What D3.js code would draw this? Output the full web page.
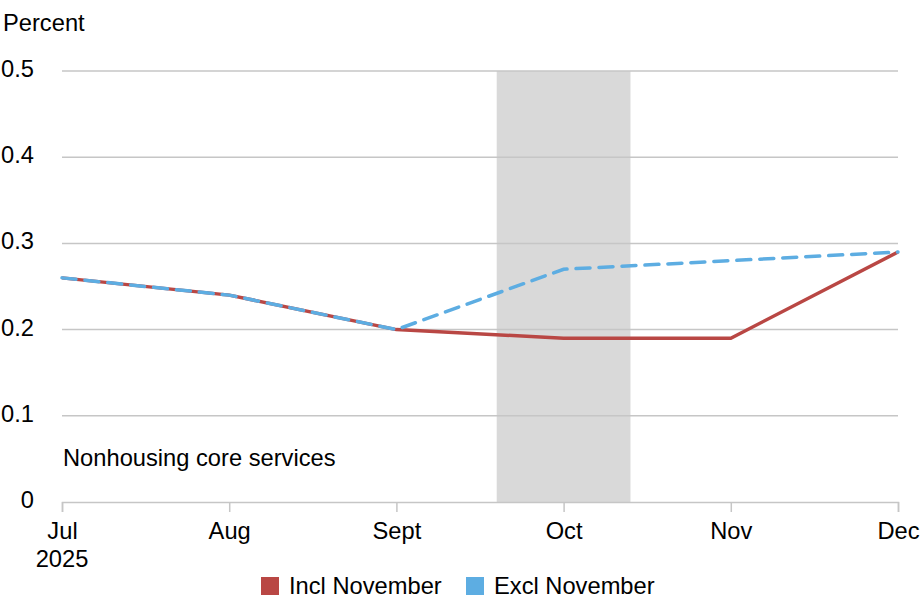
<!DOCTYPE html>
<html>
<head>
<meta charset="utf-8">
<script src="https://cdn.jsdelivr.net/npm/d3@7"></script>
<style>
    body { margin: 0; background: #fff; }
    text { font-family: "Liberation Sans", Arial, sans-serif; fill: #000; }
</style>
</head>
<body>
<div id="chart"></div>
<script>
// month labels along the x axis
let months = ["Jul", "Aug", "Sept", "Oct", "Nov", "Dec"];
let inclNovember = [0.26, 0.24, 0.20, 0.19, 0.19, 0.29];
let exclNovember = [0.26, 0.24, 0.20, 0.27, 0.28, 0.29];
let yTicks = [0, 0.1, 0.2, 0.3, 0.4, 0.5];
// shaded period, in month index units
let shadeStart = 2.6;
let shadeEnd = 3.4;

let fontSize = "23.7px";
let margin = { top: 71, right: 22, bottom: 103, left: 62 };
let width = 920 - margin.left - margin.right;
let height = 605 - margin.top - margin.bottom;

let svg = d3.select("#chart").append("svg")
    .attr("width", 920)
    .attr("height", 605);

let g = svg.append("g")
    .attr("transform", "translate(" + margin.left + "," + margin.top + ")");

let x = d3.scaleLinear()
    .domain([0, months.length - 1])
    .range([0, width]);

let y = d3.scaleLinear()
    .domain([0, 0.5])
    .range([height, 0]);

// shaded band
g.append("rect")
    .attr("x", x(shadeStart))
    .attr("y", y(0.5))
    .attr("width", x(shadeEnd) - x(shadeStart))
    .attr("height", y(0) - y(0.5))
    .attr("fill", "#d9d9d9");

// gridlines
g.selectAll(".grid")
    .data(yTicks.filter(d => d > 0))
    .enter().append("line")
    .attr("class", "grid")
    .attr("x1", 0)
    .attr("x2", width)
    .attr("y1", d => y(d))
    .attr("y2", d => y(d))
    .attr("stroke", "#c6c6c6")
    .attr("stroke-width", 1.5);

// y labels
svg.selectAll(".ylab")
    .data(yTicks)
    .enter().append("text")
    .attr("class", "ylab")
    .attr("x", 34)
    .attr("y", d => margin.top + y(d) + 6)
    .attr("text-anchor", "end")
    .style("font-size", fontSize)
    .text(d => d === 0 ? "0" : d3.format(".1f")(d));

svg.append("text")
    .attr("x", 3)
    .attr("y", 31)
    .style("font-size", fontSize)
    .text("Percent");

// x axis
let xAxis = d3.axisBottom(x)
    .tickValues(d3.range(0, months.length))
    .tickFormat(i => months[i])
    .tickSize(10)
    .tickPadding(10);

let xg = g.append("g")
    .attr("transform", "translate(0," + height + ")")
    .call(xAxis);

xg.select(".domain").attr("stroke", "#c6c6c6").attr("stroke-width", 1.5);
xg.selectAll(".tick line").attr("stroke", "#c6c6c6").attr("stroke-width", 1.5);
xg.selectAll(".tick text")
    .style("font-size", fontSize)
    .style("font-family", "'Liberation Sans', Arial, sans-serif")
    .attr("fill", "#000");

g.append("text")
    .attr("x", x(0))
    .attr("y", height + 65)
    .attr("text-anchor", "middle")
    .style("font-size", fontSize)
    .text("2025");

g.append("text")
    .attr("x", 1)
    .attr("y", y(0) - 36)
    .style("font-size", fontSize)
    .text("Nonhousing core services");

let line = d3.line()
    .x((d, i) => x(i))
    .y(d => y(d));

g.append("path")
    .datum(inclNovember)
    .attr("d", line)
    .attr("fill", "none")
    .attr("stroke", "#b94744")
    .attr("stroke-width", 3.5);

g.append("path")
    .datum(exclNovember)
    .attr("d", line)
    .attr("fill", "none")
    .attr("stroke", "#5dade2")
    .attr("stroke-width", 3.5)
    .attr("stroke-dasharray", "14,9")
    .attr("stroke-linecap", "round");

// legend
let legendItems = [
    { label: "Incl November", color: "#b94744", x: 261 },
    { label: "Excl November", color: "#5dade2", x: 466 }
];

let legend = svg.selectAll(".legend")
    .data(legendItems)
    .enter().append("g")
    .attr("class", "legend")
    .attr("transform", d => "translate(" + d.x + ",577)");

legend.append("rect")
    .attr("width", 18)
    .attr("height", 18)
    .attr("fill", d => d.color);

legend.append("text")
    .attr("x", 28)
    .attr("y", 17)
    .style("font-size", fontSize)
    .text(d => d.label);
</script>
</body>
</html>
